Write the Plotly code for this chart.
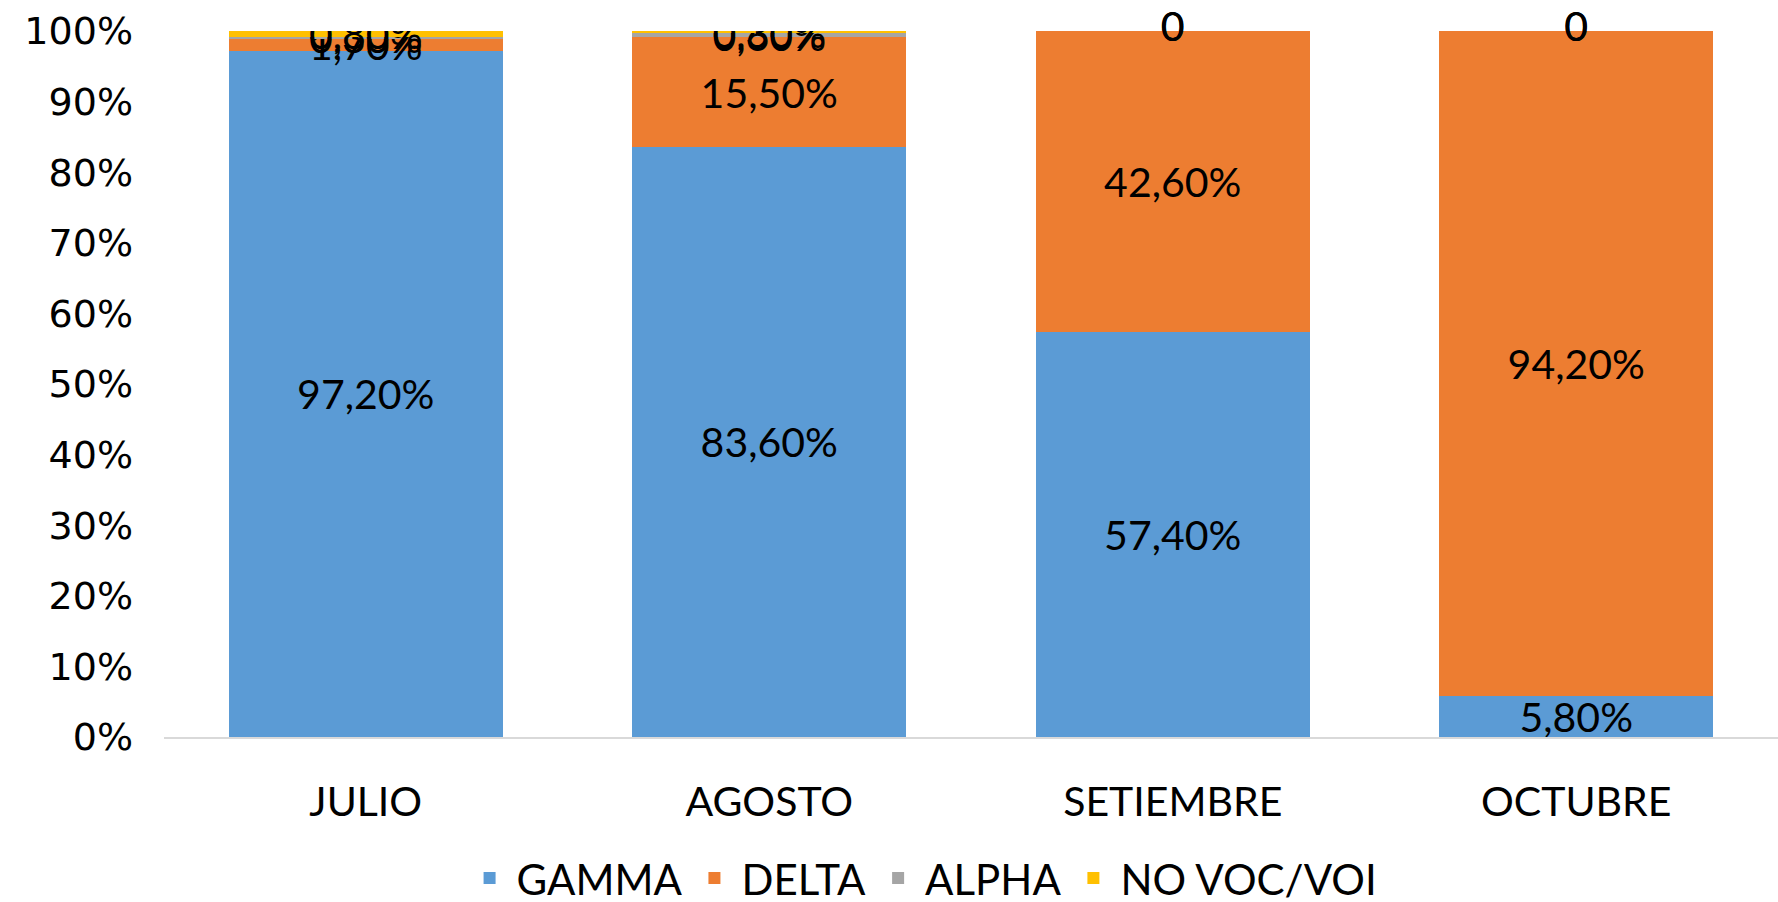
import plotly.graph_objects as go

months = ["JULIO", "AGOSTO", "SETIEMBRE", "OCTUBRE"]
gamma = [97.2, 83.6, 57.4, 5.8]
delta = [1.7, 15.5, 42.6, 94.2]
alpha = [0.3, 0.6, 0.0, 0.0]
novoc = [0.8, 0.3, 0.0, 0.0]

series = [
    ("GAMMA", gamma, "#5B9BD5"),
    ("DELTA", delta, "#ED7D31"),
    ("ALPHA", alpha, "#A5A5A5"),
    ("NO VOC/VOI", novoc, "#FFC000"),
]

def fmt(v):
    if v == 0:
        return "0"
    return f"{v:.2f}".replace(".", ",") + "%"

FONT = "Lato, Calibri, Open Sans, sans-serif"
LBL = 41

fig = go.Figure()
cum = [0.0] * len(months)
zx, zy, zt = [], [], []
for name, vals, col in series:
    fig.add_trace(go.Bar(
        name=name, x=months, y=vals, marker_color=col, marker_line_width=0,
        text=[fmt(v) for v in vals], textposition="inside",
        insidetextanchor="middle", constraintext="none",
        textfont=dict(family=FONT, size=LBL, color="#000000"),
        textangle=0,
    ))
    for i, v in enumerate(vals):
        cum[i] += v
        if v == 0:
            zx.append(months[i]); zy.append(cum[i]); zt.append(fmt(v))

# labels of zero-height segments (not drawn by bar traces)
fig.add_trace(go.Scatter(x=zx, y=zy, text=zt, mode="text", showlegend=False,
                         textposition="middle center", cliponaxis=False,
                         textfont=dict(family=FONT, size=LBL, color="#000000"),
                         hoverinfo="skip"))

fig.update_layout(
    barmode="stack", bargap=0.32,
    width=1778, height=902,
    margin=dict(l=164, r=0, t=31, b=165, autoexpand=False),
    plot_bgcolor="white", paper_bgcolor="white",
    font=dict(family=FONT, size=42, color="#000000"),
    uniformtext=dict(minsize=LBL, mode="show"),
    legend=dict(orientation="h", x=0.47, xanchor="center", y=-0.152, yanchor="top",
                font=dict(family=FONT, size=42), traceorder="normal",
                itemwidth=44),
    showlegend=True,
)
fig.update_yaxes(range=[0, 100], dtick=10, ticksuffix="%", showgrid=False,
                 zeroline=False, showline=False, automargin=False,
                 tickfont=dict(family="DejaVu Sans", size=38), ticks="",
                 ticklabelstandoff=30)
fig.update_xaxes(showline=True, linecolor="#D9D9D9", linewidth=1.5,
                 automargin=False, tickfont=dict(family=FONT, size=41), ticks="",
                 ticklabelstandoff=28)

fig.write_html("out.html", config={"displayModeBar": False},
               post_script="document.body.style.margin='0';document.body.style.overflow='hidden';")
